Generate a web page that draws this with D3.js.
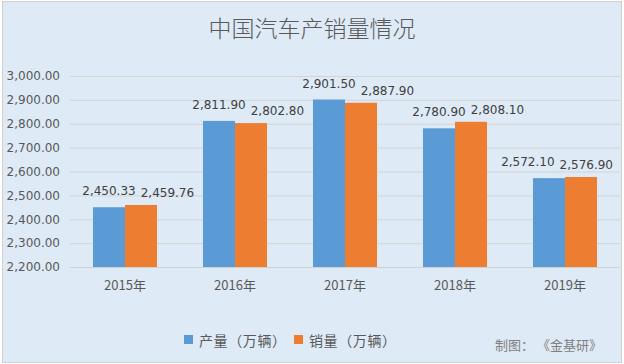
<!DOCTYPE html>
<html>
<head>
<meta charset="utf-8">
<script src="https://cdn.jsdelivr.net/npm/d3@7"></script>
<style>
  body { margin: 0; background: #ffffff; }
  svg { display: block; }
</style>
</head>
<body>
<svg></svg>
<script>
// data
let years = ['2015年', '2016年', '2017年', '2018年', '2019年']
let production = [2450.33, 2811.90, 2901.50, 2780.90, 2572.10]
let sales = [2459.76, 2802.80, 2887.90, 2808.10, 2576.90]
let seriesNames = ['产量（万辆）', '销量（万辆）']
let yTicks = [2200, 2300, 2400, 2500, 2600, 2700, 2800, 2900, 3000]

let width = 624
let height = 364
let plotLeft = 70
let plotRight = 620
let plotTop = 76
let plotBottom = 267

let colors = ['#5B9BD5', '#ED7D31']
let cjk = '"Noto Sans CJK SC", "Noto Sans", sans-serif'
let num = '"DejaVu Sans", Verdana, sans-serif'

let svg = d3.select('svg')
    .attr('width', width)
    .attr('height', height)

// background + border
svg.append('rect')
    .attr('x', 2.5).attr('y', 1.5)
    .attr('width', 619).attr('height', 361)
    .attr('fill', '#DEEAF6')
    .attr('stroke', '#D0D0D0')

svg.append('text')
    .attr('x', 312).attr('y', 37)
    .attr('text-anchor', 'middle')
    .style('font-family', cjk)
    .style('font-size', '23px')
    .style('font-weight', 300)
    .attr('fill', '#595959')
    .text('中国汽车产销量情况')

let xScale = d3.scaleBand()
    .domain(years)
    .range([plotLeft, plotRight])
    .paddingInner(0.418)
    .paddingOuter(0.209)

let xInner = d3.scaleBand()
    .domain([0, 1])
    .range([0, xScale.bandwidth()])

let yScale = d3.scaleLinear()
    .domain([2200, 3000])
    .range([plotBottom, plotTop])

// gridlines
svg.append('g')
    .selectAll('line')
    .data(yTicks.slice(1))
    .enter()
    .append('line')
    .attr('x1', plotLeft).attr('x2', plotRight)
    .attr('y1', d => yScale(d) + 0.5)
    .attr('y2', d => yScale(d) + 0.5)
    .attr('stroke', '#D4D4D4')

// y axis labels
let yAxis = d3.axisLeft(yScale)
    .tickValues(yTicks)
    .tickFormat(d3.format(',.2f'))
    .tickSize(0)
    .tickPadding(10)

let yG = svg.append('g')
    .attr('transform', 'translate(' + plotLeft + ',0)')
    .call(yAxis)
yG.select('.domain').remove()
yG.selectAll('text')
    .style('font-family', num)
    .style('font-size', '12px')
    .attr('fill', '#595959')

// bars
let rows = years.map((y, i) => [production[i], sales[i]])

let groups = svg.selectAll('.year')
    .data(years)
    .enter()
    .append('g')
    .attr('class', 'year')
    .attr('transform', d => 'translate(' + xScale(d) + ',0)')

groups.selectAll('rect')
    .data((d, i) => rows[i])
    .enter()
    .append('rect')
    .attr('x', (d, j) => xInner(j))
    .attr('width', xInner.bandwidth())
    .attr('y', d => yScale(d))
    .attr('height', d => plotBottom - yScale(d))
    .attr('fill', (d, j) => colors[j])

// x axis
let xAxis = d3.axisBottom(xScale).tickSize(0).tickPadding(14)
let xG = svg.append('g')
    .attr('transform', 'translate(0,' + plotBottom + ')')
    .call(xAxis)
xG.select('.domain')
    .attr('stroke', '#D0D0D0')
    .attr('d', 'M' + plotLeft + ',0.5H' + plotRight)
xG.selectAll('text')
    .style('font-family', cjk)
    .style('font-size', '13px')
    .attr('fill', '#595959')

// data labels, pushed apart where they collide (like the spreadsheet does)
let fmt = d3.format(',.2f')
let gap = 5
years.forEach((y, i) => {
    let vals = rows[i]
    let texts = vals.map((v, j) => svg.append('text')
        .attr('text-anchor', 'middle')
        .style('font-family', num)
        .style('font-size', '12px')
        .attr('fill', '#404040')
        .attr('y', yScale(v) - (j === 0 ? 12 : 8))
        .text(fmt(v)))
    let w = texts.map(t => t.node().getComputedTextLength())
    let cx = [0, 1].map(j => xScale(y) + xInner(j) + xInner.bandwidth() / 2)
    // first label stays on its bar, second goes to its right
    let c1 = cx[1]
    if (cx[0] + w[0] / 2 + gap > c1 - w[1] / 2) c1 = cx[0] + w[0] / 2 + gap + w[1] / 2
    let c0 = cx[0]
    let maxRight = plotRight - 7
    if (c1 + w[1] / 2 > maxRight) {
        c1 = maxRight - w[1] / 2
        c0 = Math.min(c0, c1 - w[1] / 2 - gap - w[0] / 2)
    }
    texts[0].attr('x', c0)
    texts[1].attr('x', c1)
})

// legend
let legend = svg.append('g')
    .attr('transform', 'translate(184,335)')
let legendX = [0, 110]
seriesNames.forEach((name, j) => {
    legend.append('rect')
        .attr('x', legendX[j]).attr('y', 0)
        .attr('width', 9).attr('height', 9)
        .attr('fill', colors[j])
    legend.append('text')
        .attr('x', legendX[j] + 15).attr('y', 10.5)
        .style('font-family', cjk)
        .style('font-size', '14px')
        .style('letter-spacing', '0.6px')
        .attr('fill', '#595959')
        .text(name)
})

svg.append('text')
    .attr('x', 495).attr('y', 350)
    .style('font-family', cjk)
    .style('font-size', '13px')
    .attr('fill', '#7F7F7F')
    .text('制图： 《金基研》')
</script>
</body>
</html>
